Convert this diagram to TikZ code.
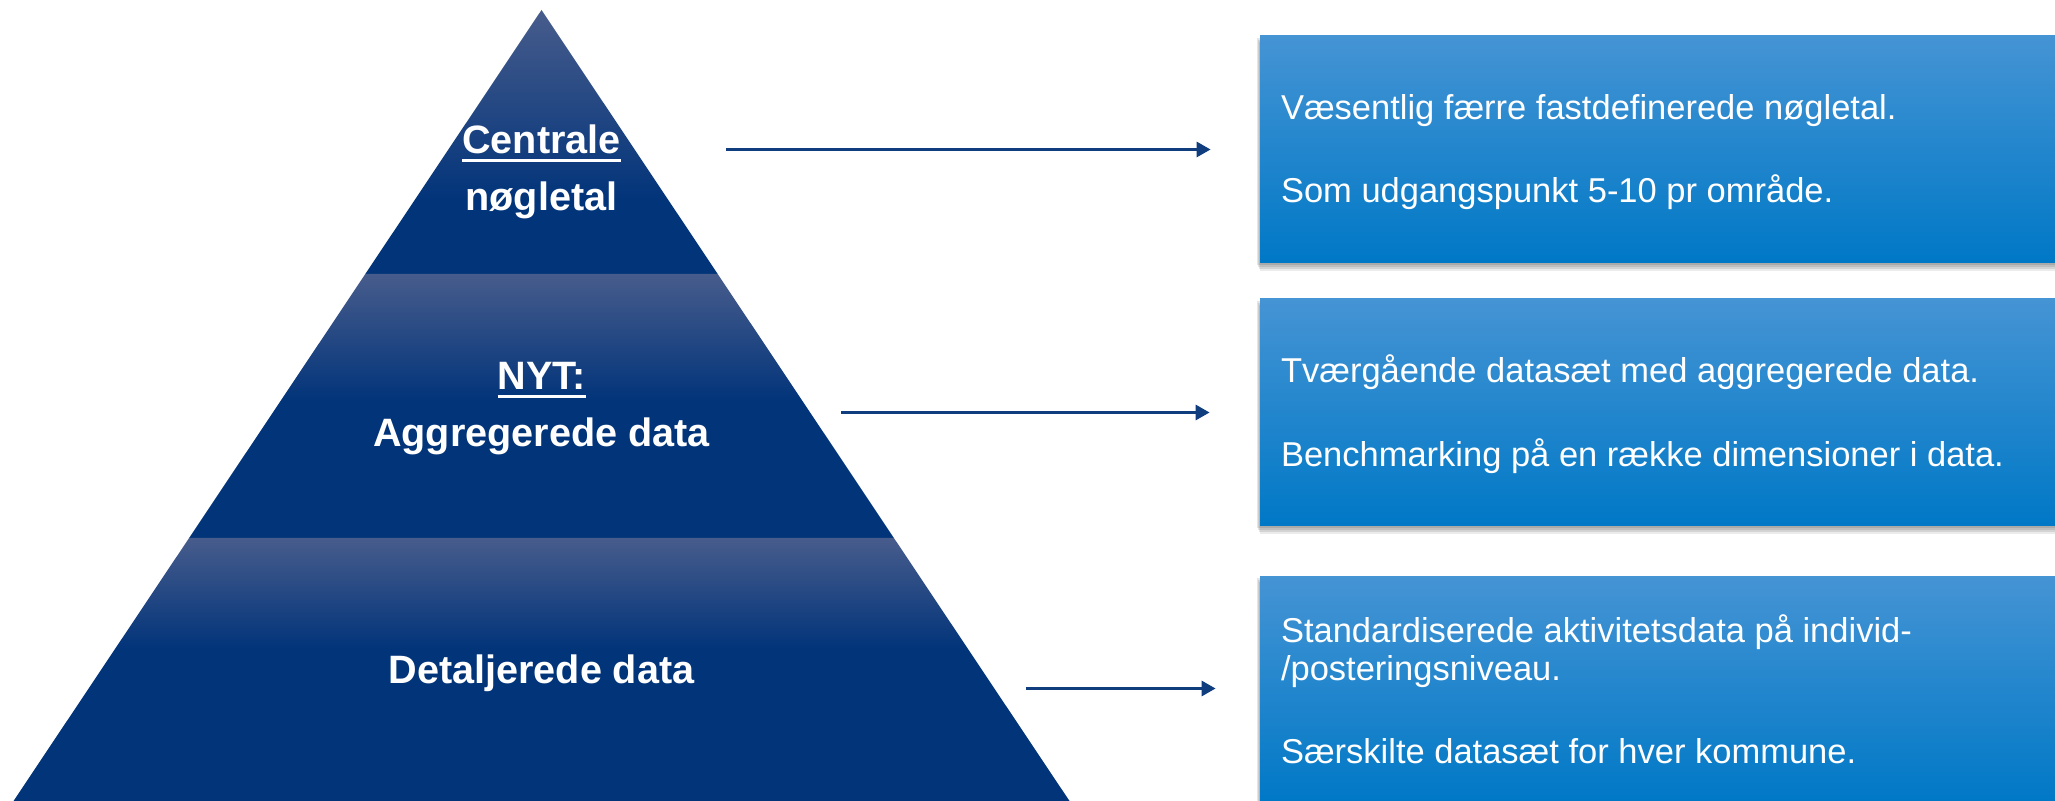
\documentclass[tikz,border=0pt]{standalone}
\usepackage{fontspec}
\setmainfont{Liberation Sans}
\usetikzlibrary{arrows.meta,calc}
\definecolor{navy}{HTML}{02347A}
\definecolor{plight}{HTML}{475C8C}
\definecolor{boxtop}{HTML}{4594D4}
\definecolor{boxbot}{HTML}{0078C6}
\definecolor{arrowc}{HTML}{0F3D7D}
\pgfdeclareverticalshading{bandA}{100bp}{color(0bp)=(navy); color(39bp)=(navy); color(75bp)=(plight); color(100bp)=(plight)}
\pgfdeclareverticalshading{bandB}{100bp}{color(0bp)=(navy); color(51bp)=(navy); color(75bp)=(plight); color(100bp)=(plight)}
\pgfdeclareverticalshading{bandC}{100bp}{color(0bp)=(navy); color(54bp)=(navy); color(75bp)=(plight); color(100bp)=(plight)}
\newcommand{\myul}[1]{\setbox0\hbox{#1}\rlap{\rule[-4pt]{\wd0}{1.7pt}}\box0}
\tikzset{
  ptext/.style={text=white, font=\fontsize{19.8pt}{24pt}\selectfont\bfseries, inner sep=0pt, anchor=base},
  btext/.style={text=white, font=\fontsize{17.25pt}{20pt}\selectfont, inner sep=0pt, anchor=base west},
  infobox/.style={rectangle, minimum width=405pt, minimum height=113.5pt, inner sep=0pt,
    top color=boxtop, bottom color=boxbot,
    preaction={fill=black, opacity=0.10, transform canvas={xshift=-1.5pt, yshift=-1pt}},
    preaction={fill=black, opacity=0.10, transform canvas={xshift=-1pt, yshift=-2pt}},
    preaction={fill=black, opacity=0.10, transform canvas={xshift=-0.5pt, yshift=-3pt}},
    preaction={fill=black, opacity=0.08, transform canvas={xshift=0pt, yshift=-4pt}}},
  conn/.style={draw=arrowc, line width=1.5pt, -{Triangle[length=7pt,width=7.5pt]}}
}
\begin{document}
\begin{tikzpicture}[x=0.5pt, y=-0.5pt]
\useasboundingbox (0,0) rectangle (2055,801);
% pyramid bands
\shade[shading=bandA] (541.5,10) -- (717.7,274) -- (365.3,274) -- cycle;
\shade[shading=bandB] (365.3,274) -- (717.7,274) -- (893.9,538) -- (189.1,538) -- cycle;
\shade[shading=bandC] (189.1,538) -- (893.9,538) -- (1069.5,801) -- (13.5,801) -- cycle;
% pyramid labels
\node[ptext] (p1a) at (541.5,154) {\myul{Centrale}};
\node[ptext] (p1b) at (541.5,211) {nøgletal};
\node[ptext] (p2a) at (541.5,390) {\myul{NYT:}};
\node[ptext] (p2b) at (541.5,447) {Aggregerede data};
\node[ptext] (p3a) at (541.5,683) {Detaljerede data};
% boxes
\node[infobox] (b1) at (1665,149.5) {};
\node[infobox] (b2) at (1665,412.5) {};
\node[infobox] (b3) at (1665,689.5) {};
\node[btext] (t1a) at ($(b1.west)+(21,-29.5)$) {Væsentlig færre fastdefinerede nøgletal.};
\node[btext] (t1b) at ($(b1.west)+(21,53.5)$) {Som udgangspunkt 5-10 pr område.};
\node[btext] (t2a) at ($(b2.west)+(21,-29.5)$) {Tværgående datasæt med aggregerede data.};
\node[btext] (t2b) at ($(b2.west)+(21,54.5)$) {Benchmarking på en række dimensioner i data.};
\node[btext] (t3a) at ($(b3.west)+(21,-47.5)$) {Standardiserede aktivitetsdata på individ-};
\node[btext] (t3b) at ($(b3.west)+(21,-9.5)$) {/posteringsniveau.};
\node[btext] (t3c) at ($(b3.west)+(21,73.5)$) {Særskilte datasæt for hver kommune.};
% connectors
\coordinate (s1) at (726,149.5);
\coordinate (s2) at (841,412.5);
\coordinate (s3) at (1026,688.5);
\coordinate (e1) at ($(b1.west)+(-49,0)$);
\coordinate (e2) at ($(b2.west)+(-50,0)$);
\coordinate (e3) at ($(b3.west)+(-44,-1)$);
\draw[conn] (s1) -- (e1);
\draw[conn] (s2) -- (e2);
\draw[conn] (s3) -- (e3);
\end{tikzpicture}
\end{document}
